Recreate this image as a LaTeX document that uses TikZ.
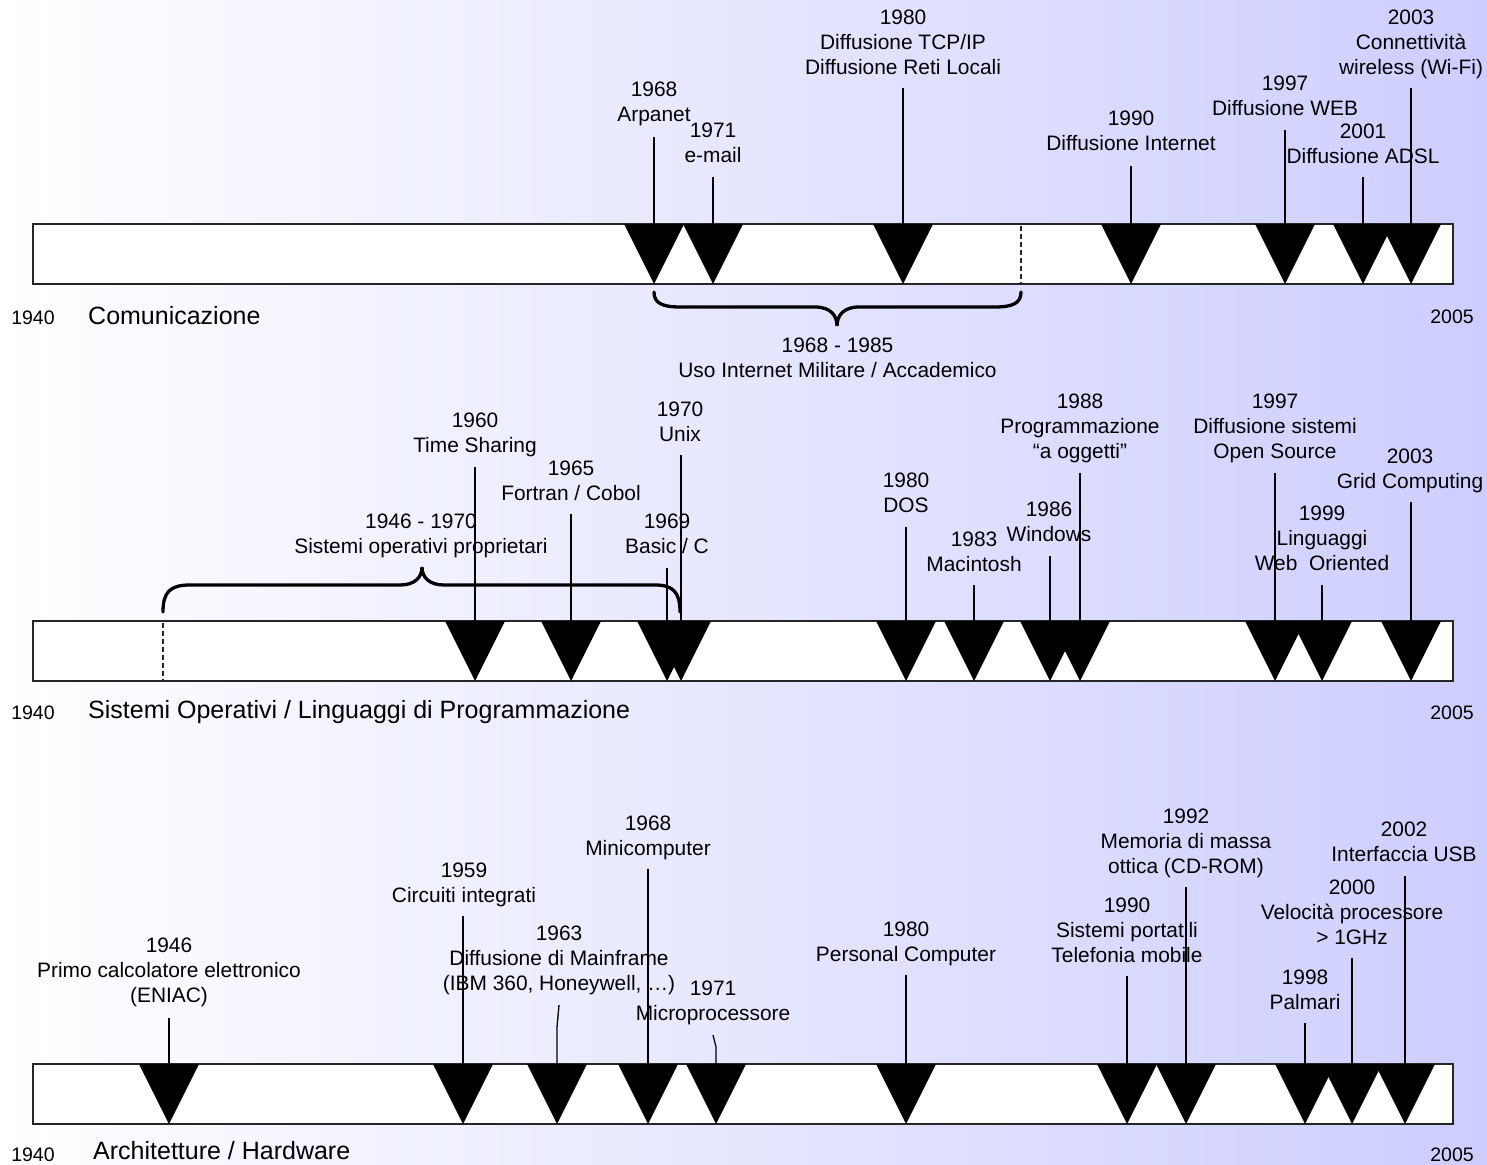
\documentclass[tikz,border=0pt]{standalone}
\usepackage{fontspec}
\setmainfont{Liberation Sans}
\definecolor{bgright}{RGB}{205,206,255}
\newcommand\tlevent[7]{%
  \coordinate (#1t) at (#2,#3);
  \coordinate (#1s) at (#2,#4);
  \fill[tri] (#1t) ++(-30,0) -- ++(60,0) -- ++(-30,60) -- cycle;
  \node[lbl] (#1l) at (#5,#6-7.5) {#7};
}
\begin{document}
\begin{tikzpicture}[x=1pt,y=-1pt,
  bar/.style={draw=black!85,line width=1.6pt,fill=white},
  tri/.style={fill=black},
  stem/.style={draw=black,line width=1.3pt},
  lbl/.style={font=\fontsize{20.9}{25.3}\selectfont,align=center,inner sep=0pt,anchor=north},
  ttl/.style={font=\fontsize{25}{29}\selectfont,inner sep=0pt,anchor=base west},
  yr/.style={font=\fontsize{19.5}{23}\selectfont,inner sep=0pt,anchor=base},
  brace/.style={draw=black,line width=3.3pt,line cap=round},
  dashline/.style={draw=black!85,line width=1.4pt,dash pattern=on 5pt off 3pt}]
\useasboundingbox (0,0) rectangle (1487,1164);
\fill[left color=white,right color=bgright] (0,0) rectangle (1487,1164);

% ===== Bar 1: Comunicazione =====
\coordinate (b1a) at (33,224);
\coordinate (b1b) at (1453,284);
\draw[bar] (b1a) rectangle (b1b);
\tlevent{c68}{654}{224}{137}{654}{89}{1968\\Arpanet}
\tlevent{c71}{713}{224}{177}{713}{130}{1971\\e-mail}
\tlevent{c80}{903}{224}{88}{903}{17}{1980\\Diffusione TCP/IP\\Diffusione Reti Locali}
\tlevent{c90}{1131}{224}{166}{1131}{118}{1990\\Diffusione Internet}
\tlevent{c97}{1285}{224}{130}{1285}{83}{1997\\Diffusione WEB}
\tlevent{c01}{1363}{224}{177}{1363}{131}{2001\\Diffusione ADSL}
\tlevent{c03}{1411}{224}{88}{1411}{17}{2003\\Connettività\\wireless (Wi-Fi)}
\foreach \n in {c68,c71,c80,c90,c97,c01,c03} \draw[stem] (\n t) -- (\n s);
\coordinate (d1a) at (1021,226);
\coordinate (d1b) at (1021,283);
\draw[dashline] (d1a) -- (d1b);
\draw[brace] (654,292) .. controls (654,303) and (662,307) .. (680,307) -- (815,307)
  .. controls (830,307) and (837,315) .. (837,326)
  .. controls (837,315) and (844,307) .. (859,307) -- (995,307)
  .. controls (1013,307) and (1021,303) .. (1021,292);
\node[lbl] (r1) at (837.5,345-7.5) {1968 - 1985\\Uso Internet Militare / Accademico};
\node[yr] (y1a) at (33,324) {1940};
\node[yr] (y1b) at (1452,323) {2005};
\node[ttl] (t1) at (88,324) {Comunicazione};

% ===== Bar 2: Sistemi Operativi =====
\coordinate (b2a) at (33,621);
\coordinate (b2b) at (1453,681);
\draw[bar] (b2a) rectangle (b2b);
\tlevent{s60}{475}{621}{467}{475}{420}{1960\\Time Sharing}
\tlevent{s65}{571}{621}{514}{571}{468}{1965\\Fortran / Cobol}
\tlevent{s69}{667}{621}{568}{667}{521}{1969\\Basic / C}
\tlevent{s70}{681}{621}{455}{680}{409}{1970\\Unix}
\tlevent{s80}{906}{621}{527}{906}{480}{1980\\DOS}
\tlevent{s83}{974}{621}{585}{974}{539}{1983\\Macintosh}
\tlevent{s86}{1050}{621}{556}{1049}{509}{1986\\Windows}
\tlevent{s88}{1080}{621}{473}{1080}{401}{1988\\Programmazione\\“a oggetti”}
\tlevent{s97}{1275}{621}{473}{1275}{401}{1997\\Diffusione sistemi\\Open Source}
\tlevent{s99}{1322}{621}{585}{1322}{513}{1999\\Linguaggi\\Web\ \ Oriented}
\tlevent{s03}{1411}{621}{502}{1410}{456}{2003\\Grid Computing}
\foreach \n in {s60,s65,s69,s70,s80,s83,s86,s88,s97,s99,s03} \draw[stem] (\n t) -- (\n s);
\coordinate (d2a) at (163,623);
\coordinate (d2b) at (163,680);
\draw[dashline] (d2a) -- (d2b);
\draw[brace] (163,612) .. controls (163,592) and (170,585) .. (190,585) -- (400,585)
  .. controls (414,585) and (422,578) .. (422,567)
  .. controls (422,578) and (430,585) .. (444,585) -- (655,585)
  .. controls (673,585) and (680,592) .. (680,612);
\node[lbl] (r2) at (421,521-7.5) {1946 - 1970\\Sistemi operativi proprietari};
\node[yr] (y2a) at (33,719) {1940};
\node[yr] (y2b) at (1452,719) {2005};
\node[ttl] (t2) at (88,718) {Sistemi Operativi / Linguaggi di Programmazione};

% ===== Bar 3: Architetture / Hardware =====
\coordinate (b3a) at (33,1064);
\coordinate (b3b) at (1453,1124);
\draw[bar] (b3a) rectangle (b3b);
\tlevent{h46}{169}{1064}{1018}{169}{945}{1946\\Primo calcolatore elettronico\\(ENIAC)}
\tlevent{h59}{463}{1064}{916}{464}{870}{1959\\Circuiti integrati}
\tlevent{h63}{557}{1064}{1005}{559}{933}{1963\\Diffusione di Mainframe\\(IBM 360, Honeywell, …)}
\tlevent{h68}{648}{1064}{869}{648}{823}{1968\\Minicomputer}
\tlevent{h71}{716}{1064}{1035}{713}{988}{1971\\Microprocessore}
\tlevent{h80}{906}{1064}{975}{906}{929}{1980\\Personal Computer}
\tlevent{h90}{1127}{1064}{976}{1127}{905}{1990\\Sistemi portatili\\Telefonia mobile}
\tlevent{h92}{1186}{1064}{887}{1186}{816}{1992\\Memoria di massa\\ottica (CD-ROM)}
\tlevent{h98}{1305}{1064}{1023}{1305}{977}{1998\\Palmari}
\tlevent{h00}{1352}{1064}{958}{1352}{887}{2000\\Velocità processore\\> 1GHz}
\tlevent{h02}{1405}{1064}{876}{1404}{829}{2002\\Interfaccia USB}
\foreach \n in {h46,h59,h68,h80,h90,h92,h98,h00,h02} \draw[stem] (\n t) -- (\n s);
\coordinate (h63k) at (557,1027);
\coordinate (h63u) at (559,1005);
\draw[stem] (h63t) -- (h63k) -- (h63u);
\coordinate (h71k) at (716,1047);
\coordinate (h71u) at (713,1035);
\draw[stem] (h71t) -- (h71k) -- (h71u);
\node[yr] (y3a) at (33,1161) {1940};
\node[yr] (y3b) at (1452,1161) {2005};
\node[ttl] (t3) at (93,1159) {Architetture / Hardware};
\end{tikzpicture}
\end{document}
